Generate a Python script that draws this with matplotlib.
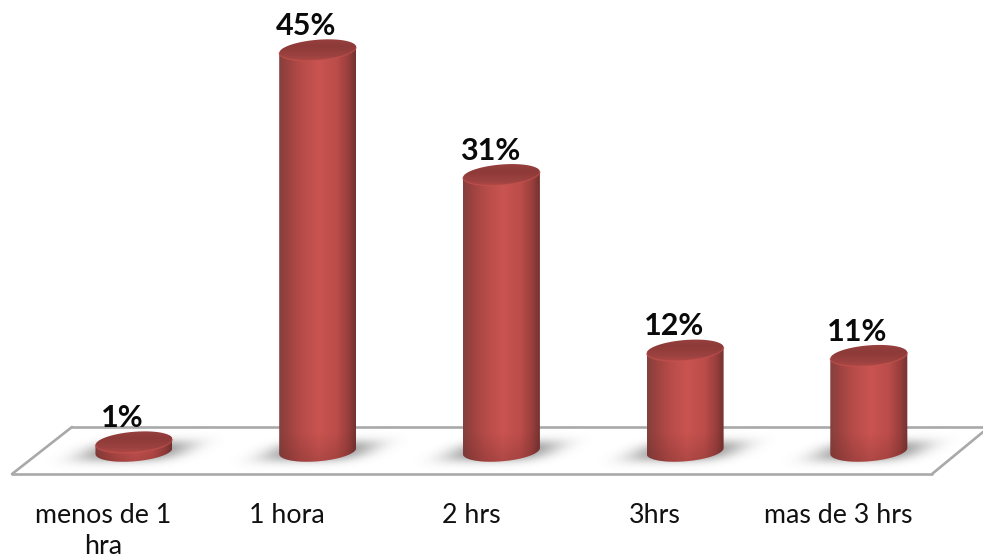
import numpy as np
import matplotlib
matplotlib.use("Agg")
import matplotlib.pyplot as plt
from matplotlib.colors import LinearSegmentedColormap, to_rgb
from matplotlib.patches import Polygon
from matplotlib.lines import Line2D
from matplotlib.transforms import Affine2D

# --- data ---
categories = ["menos de 1\nhra", "1 hora", "2 hrs", "3hrs", "mas de 3 hrs"]
values = [1.0, 45.0, 31.0, 11.3, 10.7]       # heights
value_labels = ["1%", "45%", "31%", "12%", "11%"]

W, H = 983, 559
fig = plt.figure(figsize=(W / 100, H / 100), dpi=100, facecolor="white")
ax = fig.add_axes([0, 0, 1, 1])

# scales: pixels per category / per percent
PX_X, X0 = 183.7, 134.0
PX_Y, Y0 = 8.91, 451.0
ax.set_xlim(-X0 / PX_X, (W - X0) / PX_X)
ax.set_ylim((Y0 - H) / PX_Y, Y0 / PX_Y)
ax.set_autoscale_on(False)
for s in ax.spines.values():
    s.set_visible(False)
ax.yaxis.set_visible(False)
ax.set_facecolor("white")

FONT = ["Lato", "DejaVu Sans"]
ax.set_xticks(np.arange(len(categories)) - 30.5 / PX_X)
ax.set_xticklabels(categories, fontsize=19.3, family=FONT, color="#111111", linespacing=1.3)
ax.tick_params(axis="x", length=0, direction="in")
for lab in ax.get_xticklabels():
    lab.set_verticalalignment("top")
ax.xaxis.set_tick_params(pad=-56 * 0.72)

# floor: a perspective plane, positioned in pixels
px = Affine2D().scale(1, -1).translate(0, H)
floor_col = "#a9a9a9"
for seg in [[(12, 474), (72, 427)], [(72, 427), (983, 427)],
            [(12, 474), (932, 474)], [(932, 474), (983, 432)]]:
    xs, ys = zip(*seg)
    ax.add_line(Line2D(xs, ys, transform=px, color=floor_col, lw=1.9, zorder=2,
                       solid_capstyle="round"))

body_cmap = LinearSegmentedColormap.from_list(
    "body", [(0, "#84403d"), (0.10, "#99423f"), (0.28, "#b54b48"), (0.52, "#ca5451"),
             (0.75, "#bb4d4a"), (0.90, "#9a3f3d"), (1, "#733230")])
top_cmap = LinearSegmentedColormap.from_list(
    "top", [(0, "#9a4340"), (0.35, "#8d3a38"), (0.72, "#9c4240"), (1, "#b54b48")])

HALF_W = 38.5 / PX_X
B = 10.3 / PX_Y
K = 3.0 / PX_Y
t = np.linspace(0, 2 * np.pi, 181)
lower = t <= np.pi


def ellipse(cx, cy):
    return cx + HALF_W * np.cos(t), cy + B * np.sin(t) + K * np.cos(t)


for i, (v, lab) in enumerate(zip(values, value_labels)):
    # soft shadow on the floor
    gx = np.linspace(-110, 110, 300)
    gy = np.linspace(-26, 26, 110)
    dx, dy = np.meshgrid(gx, gy)
    u = dx + 1.5 * dy
    a = np.exp(-(np.abs(u) / 50) ** 3.5) * np.exp(-(np.abs(dy) / 10.5) ** 2.4) * 0.72
    rgba = np.zeros(a.shape + (4,))
    rgba[..., :3] = 0.42
    rgba[..., 3] = a
    ax.imshow(rgba, extent=(i + (2 - 110) / PX_X, i + (2 + 110) / PX_X, -26 / PX_Y, 26 / PX_Y),
              origin="upper", aspect="auto", interpolation="bilinear", zorder=3)

    # cylinder side: base front arc up to the top outline
    bx = i + HALF_W * np.cos(t[lower])
    by = -B * np.sin(t[lower]) + K * np.cos(t[lower])
    tx = bx[::-1]
    ty = v + K * np.cos(t[lower][::-1])
    side = Polygon(np.column_stack([np.r_[bx, tx], np.r_[by, ty]]), closed=True,
                   transform=ax.transData, facecolor="none", edgecolor="none")
    ax.add_patch(side)
    im = ax.imshow(np.linspace(0, 1, 128)[None, :], cmap=body_cmap, vmin=0, vmax=1,
                   extent=(i - HALF_W, i + HALF_W, -B * 1.5, v + B * 1.5),
                   aspect="auto", interpolation="bilinear", zorder=4)
    im.set_clip_path(side)

    # darkening towards the foot of the cylinder
    shade = np.zeros((40, 2, 4))
    shade[..., :3] = to_rgb("#5a2322")
    shade[:, :, 3] = np.linspace(0, 0.25, 40)[:, None]
    im2 = ax.imshow(shade, extent=(i - HALF_W, i + HALF_W, -B * 1.2, min(v, 2.0)),
                    origin="upper", aspect="auto", interpolation="bilinear", zorder=5)
    im2.set_clip_path(side)

    # top cap with a vertical gradient and a soft light front rim
    tx2, ty2 = ellipse(i, v)
    cap = Polygon(np.column_stack([tx2, ty2]), closed=True, transform=ax.transData,
                  facecolor="none", edgecolor="none")
    ax.add_patch(cap)
    im3 = ax.imshow(np.linspace(0, 1, 64)[:, None], cmap=top_cmap, vmin=0, vmax=1,
                    extent=(i - HALF_W, i + HALF_W, v - B * 1.25, v + B * 1.25),
                    origin="upper", aspect="auto", interpolation="bilinear", zorder=6)
    im3.set_clip_path(cap)
    front = t >= np.pi
    ax.plot(tx2[front], ty2[front], color="#c9544f", lw=1.0, alpha=0.55, zorder=7,
            solid_capstyle="round")

    # value label
    ax.annotate(lab, (i, v), xytext=(-11.5 * 0.72, 15 * 0.72), textcoords="offset points",
                ha="center", va="baseline", fontsize=22, fontweight="bold",
                family=FONT, color="#0a0a0a", zorder=9)

fig.savefig("out.png", dpi=100, facecolor="white")
